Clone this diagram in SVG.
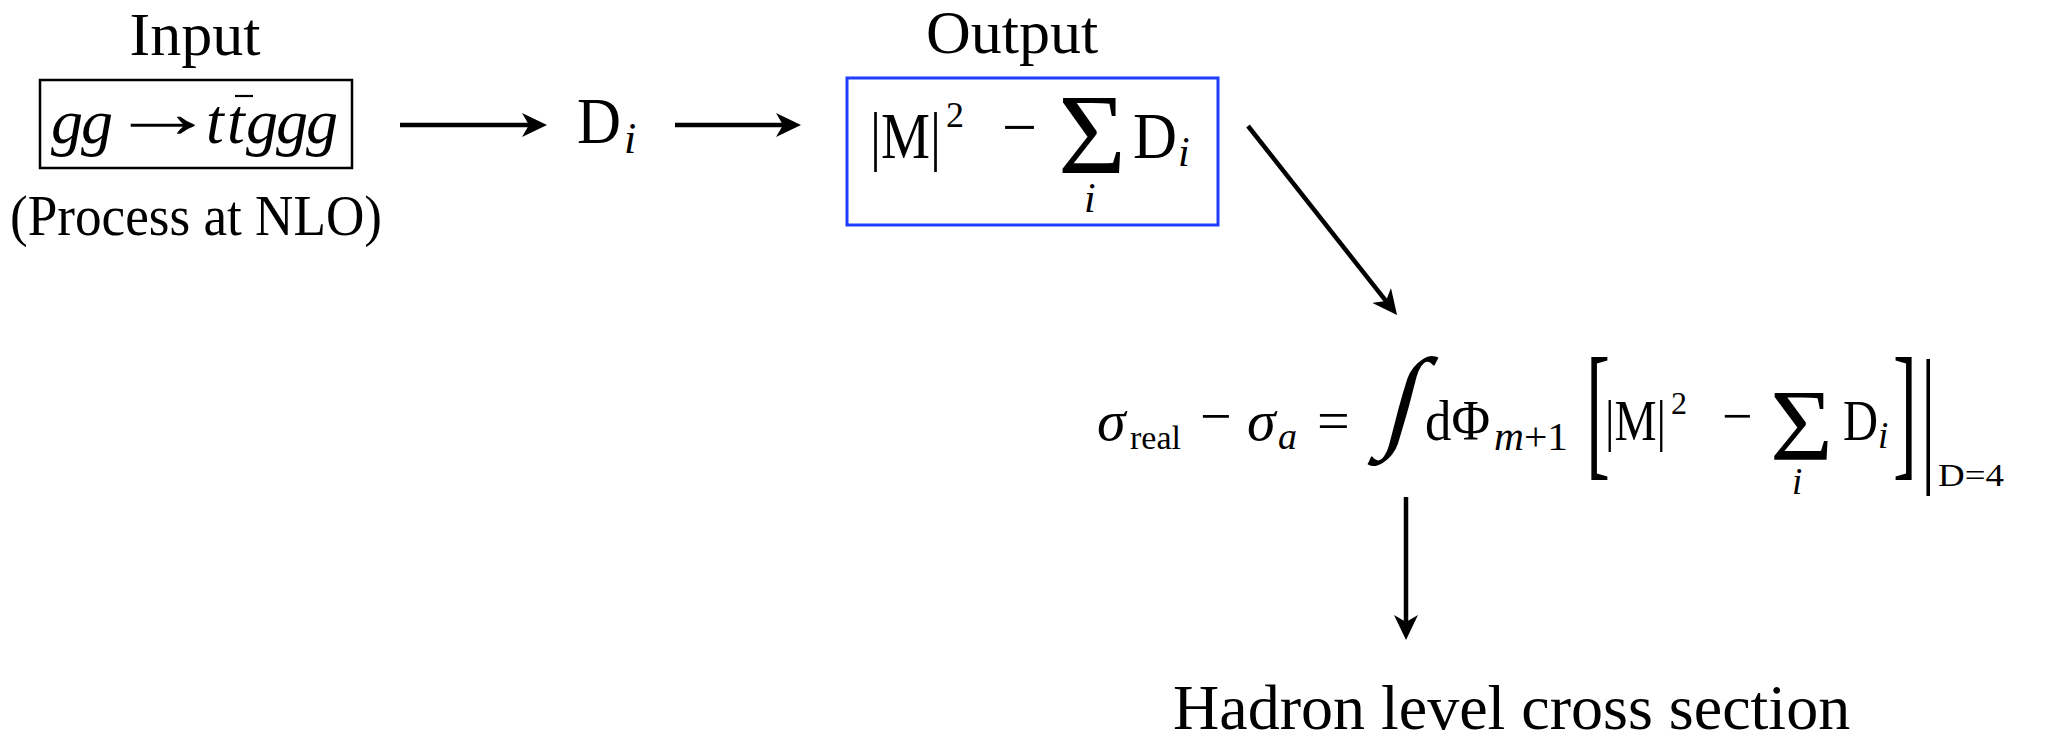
<svg xmlns="http://www.w3.org/2000/svg" width="2051" height="739" viewBox="0 0 2051 739">
<defs>
<style>
.rm{font-family:"Liberation Serif","Times New Roman",serif;fill:#000}
.it{font-family:"Liberation Serif","Times New Roman",serif;font-style:italic;fill:#000}
.conn{stroke:#000;stroke-width:4.5;fill:none;marker-end:url(#ah)}
</style>
<marker id="ah" markerUnits="userSpaceOnUse" viewBox="0 0 26 24" markerWidth="26" markerHeight="24" refX="7" refY="12" orient="auto">
<path d="M0,0 L25,12 L0,24 L7,12 Z" fill="#000"/>
</marker>
</defs>
<rect width="2051" height="739" fill="#fff"/>

<g id="node-input">
<text class="rm" x="195" y="55" font-size="62" text-anchor="middle">Input</text>
<rect x="40" y="80" width="312" height="88" fill="none" stroke="#000" stroke-width="2.5"/>
<text class="it" y="143" font-size="64"><tspan x="51">g</tspan><tspan x="81">g</tspan><tspan x="206">t</tspan><tspan x="227">t</tspan><tspan x="246">g</tspan><tspan x="276">g</tspan><tspan x="306">g</tspan></text>
<text class="rm" transform="translate(109,137) scale(1.5,1)" font-size="72">→</text>
<line x1="235" y1="96" x2="253" y2="96" stroke="#000" stroke-width="2.2"/>
<text class="rm" x="10" y="235" font-size="56" textLength="372" lengthAdjust="spacingAndGlyphs">(Process at NLO)</text>
</g>

<g id="node-di">
<text class="rm" x="577" y="143" font-size="66" textLength="44" lengthAdjust="spacingAndGlyphs">D</text>
<text class="it" x="624" y="153" font-size="44">i</text>
</g>

<g id="node-output">
<text class="rm" x="1012" y="53" font-size="62" text-anchor="middle">Output</text>
<rect x="847" y="78" width="371" height="147" fill="none" stroke="#1f3dff" stroke-width="3"/>
<text class="rm" x="870" y="158" font-size="66" textLength="71" lengthAdjust="spacingAndGlyphs">|M|</text>
<text class="rm" x="946" y="127" font-size="36">2</text>
<text class="rm" x="1002" y="148" font-size="62">−</text>
<text class="rm" x="1058" y="173" font-size="114" textLength="68" lengthAdjust="spacingAndGlyphs">Σ</text>
<text class="it" x="1084" y="212" font-size="42">i</text>
<text class="rm" x="1133" y="158" font-size="66" textLength="44" lengthAdjust="spacingAndGlyphs">D</text>
<text class="it" x="1178" y="166" font-size="42">i</text>
</g>

<g id="node-equation">
<text class="it" x="1097" y="440" font-size="58">σ</text>
<text class="rm" x="1130" y="449" font-size="34">real</text>
<text class="rm" x="1200" y="435" font-size="56">−</text>
<text class="it" x="1247" y="440" font-size="58">σ</text>
<text class="it" x="1278" y="449" font-size="38">a</text>
<text class="rm" x="1317" y="440" font-size="58">=</text>
<text class="rm" transform="translate(1381,436) skewX(-15)" font-size="112">∫</text>
<text class="rm" x="1425" y="440" font-size="58" textLength="65" lengthAdjust="spacingAndGlyphs">dΦ</text>
<text class="it" x="1494" y="450" font-size="40" textLength="74" lengthAdjust="spacingAndGlyphs">m<tspan class="rm" font-style="normal">+1</tspan></text>
<text class="rm" transform="translate(1586,460) scale(1,2.05)" font-size="72">[</text>
<text class="rm" x="1605" y="440" font-size="58" textLength="61" lengthAdjust="spacingAndGlyphs">|M|</text>
<text class="rm" x="1671" y="414" font-size="32">2</text>
<text class="rm" x="1722" y="434" font-size="54">−</text>
<text class="rm" x="1770" y="460" font-size="101" textLength="63" lengthAdjust="spacingAndGlyphs">Σ</text>
<text class="it" x="1792" y="494" font-size="37">i</text>
<text class="rm" x="1843" y="440" font-size="58" textLength="35" lengthAdjust="spacingAndGlyphs">D</text>
<text class="it" x="1878" y="448" font-size="37">i</text>
<text class="rm" transform="translate(1893,460) scale(1,2.05)" font-size="72">]</text>
<text class="rm" transform="translate(1921,464) scale(1,2.1)" font-size="72">|</text>
<text class="rm" x="1938" y="486" font-size="32" textLength="66" lengthAdjust="spacingAndGlyphs">D=4</text>
</g>

<g id="node-result">
<text class="rm" x="1173" y="729" font-size="64">Hadron level cross section</text>
</g>

<g id="connectors">
<line class="conn" x1="400" y1="125" x2="529" y2="125"/>
<line class="conn" x1="675" y1="125" x2="783" y2="125"/>
<line class="conn" x1="1248" y1="126" x2="1385.9" y2="300.9"/>
<line class="conn" x1="1406" y1="497" x2="1406" y2="622"/>
</g>
</svg>
